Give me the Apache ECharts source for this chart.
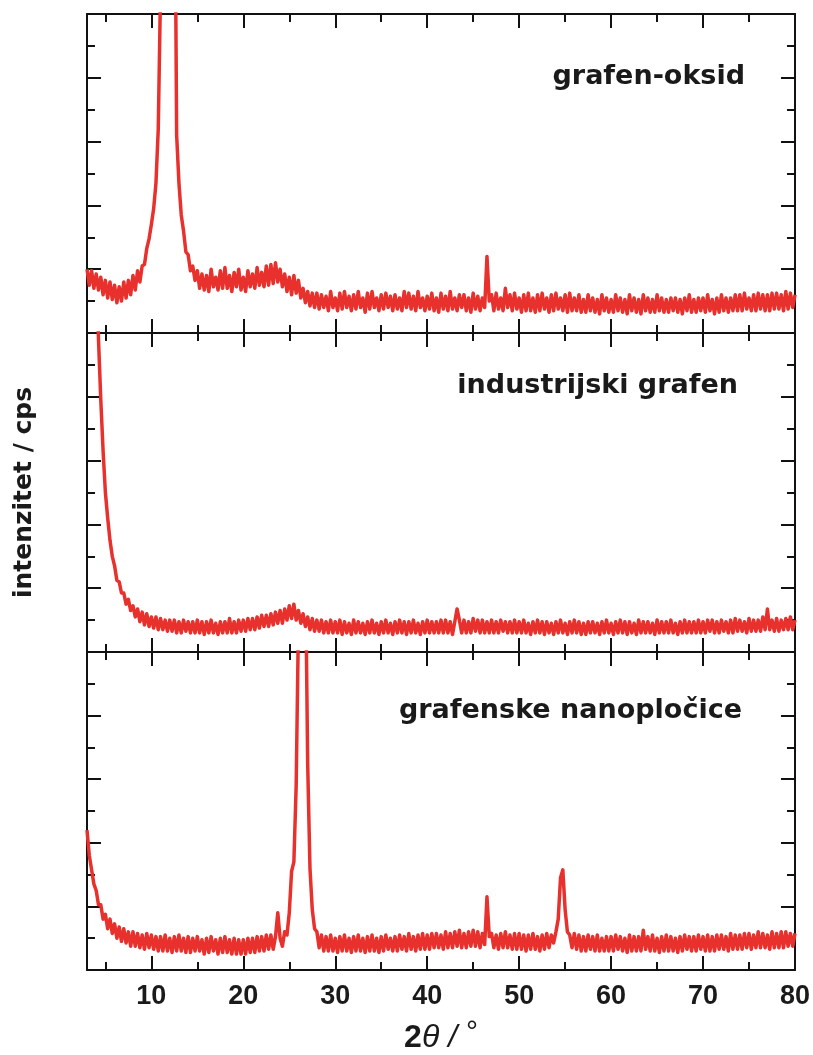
<!DOCTYPE html>
<html>
<head>
<meta charset="utf-8">
<script src="https://cdn.jsdelivr.net/npm/echarts@6/dist/echarts.min.js"></script>
<style>
html,body{margin:0;padding:0;background:#fff;}
#chart{width:813px;height:1055px;}
</style>
</head>
<body>
<div id="chart"></div>
<script>
// 2θ scan: start angle and step (degrees)
const angleStart = 3;
const angleStep = 0.25;
const angleMin = 3, angleMax = 80;

const panelNames = ['grafen-oksid', 'industrijski grafen', 'grafenske nanopločice'];
const xTickLabels = [10, 20, 30, 40, 50, 60, 70, 80];
const xMinorTicks = [5, 15, 25, 35, 45, 55, 65, 75];

// intensities (relative, per panel 0..10), one value per 0.25° from 3° to 80°
const grafenOksid = [
2.0,1.5,1.95,1.4, 1.85,1.35,1.75,1.2, 1.65,1.1,1.6,1.05, 1.5,0.95,1.45,1.0, 1.6,1.1,1.65,1.2,
1.8,1.35,1.95,1.6, 2.1,2.15,2.65,2.95, 3.4,3.9,4.7,6.4, 10.8,22,40,40, 40,32,17,6.2,
4.7,3.7,3.2,2.55, 2.45,1.95,2.1,1.65, 1.95,1.4,1.85,1.35, 1.8,1.3,2.0,1.45, 1.75,1.35,1.95,1.4,
2.05,1.4,1.8,1.3, 1.9,1.45,2.0,1.35, 1.75,1.3,1.95,1.45, 1.85,1.4,2.05,1.5, 1.9,1.45,2.1,1.5,
2.15,1.55,2.2,1.6, 2.0,1.45,1.85,1.3, 1.75,1.2,1.8,1.25, 1.65,1.1,1.4,0.95, 1.3,0.85,1.25,0.8,
1.25,0.75,1.2,0.8, 1.15,0.7,1.3,0.8, 1.1,0.7,1.25,0.75, 1.3,0.8,1.15,0.7, 1.2,0.75,1.3,0.8,
1.1,0.65,1.25,0.75, 1.3,0.8,1.1,0.7, 1.2,0.75,1.25,0.8, 1.15,0.7,1.2,0.75, 1.1,0.7,1.3,0.8,
1.25,0.75,1.15,0.7, 1.3,0.8,1.1,0.7, 1.15,0.75,1.25,0.7, 1.1,0.65,1.25,0.75, 1.15,0.7,1.3,0.75,
1.1,0.7,1.2,0.8, 1.2,0.7,1.1,0.65, 1.25,0.75,1.15,0.7, 1.1,0.8,2.4,1.0, 1.2,0.7,1.25,0.75,
1.1,0.7,1.4,0.8, 1.2,0.7,1.25,0.75, 1.1,0.65,1.2,0.7, 1.25,0.7,1.1,0.65, 1.2,0.7,1.25,0.75,
1.1,0.65,1.2,0.7, 1.25,0.75,1.1,0.7, 1.2,0.65,1.25,0.7, 1.1,0.7,1.2,0.65, 1.05,0.65,1.2,0.7,
1.1,0.65,1.05,0.6, 1.2,0.7,1.1,0.65, 1.05,0.65,1.2,0.7, 1.1,0.65,1.05,0.6, 1.2,0.7,1.1,0.65,
1.05,0.6,1.2,0.7, 1.1,0.65,1.05,0.65, 1.2,0.7,1.1,0.65, 1.05,0.65,1.1,0.7, 1.1,0.65,1.05,0.6,
1.1,0.7,1.2,0.65, 1.05,0.65,1.1,0.7, 1.1,0.65,1.2,0.7, 1.05,0.6,1.1,0.65, 1.2,0.7,1.1,0.65,
1.1,0.7,1.2,0.7, 1.2,0.7,1.25,0.75, 1.1,0.7,1.2,0.7, 1.25,0.75,1.2,0.7, 1.2,0.7,1.25,0.75,
1.25,0.75,1.2,0.7, 1.3,0.75,1.25,0.8, 1.2
];

const industrijskiGrafen = [
40,40,32,18, 12.5,9.8,7.9,6.3, 5.0,4.2,3.5,3.0, 2.7,2.25,2.2,1.85, 1.85,1.5,1.65,1.3,
1.45,1.1,1.35,0.95, 1.25,0.85,1.2,0.8, 1.1,0.75,1.1,0.7, 1.05,0.7,1.0,0.65, 1.0,0.65,1.0,0.6,
0.95,0.6,1.0,0.65, 0.95,0.6,0.95,0.6, 1.0,0.6,0.95,0.55, 0.95,0.6,1.0,0.6, 0.9,0.55,0.95,0.6,
0.95,0.6,1.05,0.6, 0.95,0.6,1.0,0.65, 1.0,0.65,1.05,0.7, 1.05,0.7,1.1,0.75, 1.15,0.8,1.15,0.8,
1.2,0.85,1.25,0.9, 1.3,0.9,1.35,1.0, 1.45,1.05,1.5,1.0, 1.3,0.9,1.2,0.8, 1.1,0.7,1.05,0.65,
1.0,0.65,1.0,0.6, 0.95,0.6,1.0,0.6, 0.95,0.6,1.0,0.55, 0.95,0.6,0.9,0.55, 1.0,0.6,0.95,0.6,
0.9,0.55,0.95,0.6, 1.0,0.6,0.9,0.55, 0.95,0.6,1.0,0.6, 0.9,0.55,0.95,0.6, 1.0,0.6,0.95,0.55,
0.95,0.6,1.0,0.6, 0.9,0.55,0.95,0.6, 1.0,0.6,0.95,0.6, 0.95,0.6,1.0,0.6, 1.0,0.6,0.95,0.55,
0.95,1.35,1.0,0.6, 1.0,0.6,0.95,0.6, 1.05,0.65,1.0,0.6, 1.0,0.6,0.95,0.6, 1.0,0.6,0.95,0.6,
1.0,0.65,0.95,0.6, 0.95,0.6,1.0,0.6, 0.95,0.6,1.0,0.6, 0.9,0.55,0.95,0.6, 1.0,0.6,0.95,0.55,
0.95,0.6,0.9,0.55, 0.95,0.6,1.0,0.6, 0.9,0.55,0.95,0.6, 1.0,0.6,0.95,0.55, 0.9,0.55,0.95,0.6,
0.95,0.6,0.9,0.55, 0.95,0.6,1.0,0.6, 0.9,0.55,0.95,0.6, 1.0,0.6,0.95,0.55, 0.95,0.6,0.9,0.55,
1.0,0.6,0.95,0.6, 0.95,0.6,0.9,0.55, 1.0,0.6,0.95,0.6, 0.95,0.6,1.0,0.6, 0.9,0.55,0.95,0.6,
1.0,0.6,0.95,0.6, 0.95,0.6,1.0,0.6, 0.95,0.6,1.0,0.65, 1.0,0.6,0.95,0.6, 1.0,0.65,0.95,0.6,
1.0,0.6,1.05,0.65, 1.0,0.65,0.95,0.6, 1.05,0.65,1.0,0.65, 1.0,0.65,1.1,0.7, 1.35,0.7,1.0,0.65,
1.05,0.65,1.0,0.7, 1.05,0.7,1.1,0.7, 1.0
];

const grafenskeNanoplocice = [
4.4,3.6,3.15,2.7, 2.5,2.05,2.05,1.6, 1.75,1.3,1.6,1.15, 1.45,1.0,1.35,0.9, 1.3,0.85,1.2,0.75,
1.2,0.75,1.15,0.7, 1.1,0.65,1.15,0.7, 1.1,0.65,1.05,0.6, 1.05,0.6,1.1,0.6, 1.0,0.55,1.05,0.6,
1.1,0.6,1.0,0.55, 1.05,0.55,1.0,0.6, 1.05,0.6,0.95,0.5, 1.0,0.55,1.05,0.6, 0.95,0.5,1.0,0.55,
1.05,0.55,0.95,0.5, 1.0,0.5,0.95,0.5, 0.95,0.5,1.0,0.55, 1.0,0.55,1.05,0.6, 1.05,0.6,1.1,0.65,
1.1,0.65,1.05,1.8, 1.0,0.75,1.2,1.1, 1.8,3.1,3.4,5.8, 11,30,30,13, 6.5,3.2,1.9,1.3,
1.2,0.7,1.1,0.6, 1.05,0.6,1.1,0.6, 1.0,0.55,1.05,0.6, 1.1,0.6,1.0,0.55, 1.05,0.6,1.1,0.6,
1.0,0.55,1.05,0.6, 1.1,0.6,1.0,0.55, 1.05,0.6,1.1,0.65, 1.0,0.6,1.05,0.6, 1.1,0.65,1.05,0.6,
1.15,0.65,1.05,0.6, 1.1,0.65,1.15,0.65, 1.1,0.65,1.15,0.7, 1.15,0.7,1.1,0.65, 1.2,0.7,1.15,0.7,
1.2,0.75,1.25,0.7, 1.15,0.7,1.2,0.75, 1.25,0.75,1.2,0.7, 1.15,0.8,2.3,1.05, 1.15,0.7,1.1,0.65,
1.15,0.7,1.2,0.7, 1.1,0.65,1.15,0.65, 1.15,0.65,1.1,0.6, 1.1,0.65,1.15,0.65, 1.05,0.6,1.1,0.65,
1.15,0.7,1.1,0.85, 1.2,1.6,2.9,3.15, 1.9,1.2,1.1,0.7, 1.15,0.65,1.1,0.6, 1.05,0.6,1.1,0.65,
1.05,0.6,1.1,0.6, 1.0,0.6,1.05,0.6, 1.05,0.6,1.1,0.65, 1.05,0.6,1.0,0.55, 1.1,0.6,1.05,0.6,
1.05,0.6,1.25,0.65, 1.05,0.6,1.1,0.6, 1.0,0.55,1.05,0.6, 1.1,0.6,1.05,0.6, 1.0,0.55,1.05,0.6,
1.1,0.65,1.05,0.6, 1.05,0.6,1.1,0.65, 1.05,0.6,1.1,0.6, 1.05,0.6,1.1,0.65, 1.1,0.65,1.05,0.6,
1.15,0.65,1.1,0.65, 1.1,0.65,1.15,0.7, 1.15,0.65,1.1,0.7, 1.2,0.7,1.15,0.7, 1.1,0.65,1.2,0.7,
1.15,0.7,1.2,0.7, 1.2,0.75,1.15,0.75, 1.15
];

const seriesValues = [grafenOksid, industrijskiGrafen, grafenskeNanoplocice];

const lineColor = '#e8312d';
const axisColor = '#111111';
const gridTops = [14, 333, 652];
const gridHeight = 319;

function toPairs(values) {
  return values.map((v, i) => [angleStart + i * angleStep, v]);
}

const grids = [], xAxes = [], yAxes = [], series = [], graphics = [];
const labelRight = [68, 75, 71];
const labelTop = [63, 372, 697];

for (let p = 0; p < 3; p++) {
  grids.push({ left: 87, right: 18, top: gridTops[p], height: gridHeight, containLabel: false });
  const isBottom = p === 2;
  const baseX = {
    gridIndex: p, type: 'value', min: angleMin, max: angleMax,
    splitLine: { show: false }, axisLabel: { show: false }
  };
  xAxes.push(Object.assign({}, baseX, {
    position: 'bottom',
    axisLine: { show: true, onZero: false, lineStyle: { color: axisColor, width: 2 } },
    axisTick: { show: true, inside: true, length: 14, customValues: xTickLabels, lineStyle: { color: axisColor, width: 2 } },
    axisLabel: isBottom ? {
      show: true, customValues: xTickLabels, margin: 13,
      fontFamily: "'Liberation Sans Narrow','Arial Narrow','Liberation Sans',sans-serif",
      fontWeight: 'bold', fontSize: 27, color: '#1a1a1a'
    } : { show: false },
    name: isBottom ? '{a|2}{b|θ / }{c|°}' : '',
    nameLocation: 'middle', nameGap: 48,
    nameTextStyle: {
      rich: {
        a: { fontFamily: "'Liberation Sans',sans-serif", fontWeight: 'bold', fontSize: 32, color: '#1a1a1a' },
        b: { fontFamily: "'Liberation Sans',sans-serif", fontStyle: 'italic', fontWeight: 'normal', fontSize: 32, color: '#1a1a1a' },
        c: { fontFamily: "'Liberation Sans',sans-serif", fontSize: 30, color: '#1a1a1a', verticalAlign: 'top', padding: [0, 0, 10, 0] }
      }
    }
  }));
  xAxes.push(Object.assign({}, baseX, {
    position: 'bottom',
    axisLine: { show: false, onZero: false },
    axisTick: { show: true, inside: true, length: 8, customValues: xMinorTicks, lineStyle: { color: axisColor, width: 2 } }
  }));
  xAxes.push(Object.assign({}, baseX, {
    position: 'top',
    axisLine: { show: true, onZero: false, lineStyle: { color: axisColor, width: 2 } },
    axisTick: { show: true, inside: true, length: 14, customValues: xTickLabels, lineStyle: { color: axisColor, width: 2 } }
  }));
  xAxes.push(Object.assign({}, baseX, {
    position: 'top',
    axisLine: { show: false, onZero: false },
    axisTick: { show: true, inside: true, length: 8, customValues: xMinorTicks, lineStyle: { color: axisColor, width: 2 } }
  }));

  const baseY = {
    gridIndex: p, type: 'value', min: 0, max: 10, interval: 2,
    splitLine: { show: false }, minorSplitLine: { show: false },
    axisLabel: { show: false },
    axisLine: { show: true, onZero: false, lineStyle: { color: axisColor, width: 2 } },
    axisTick: { show: true, inside: true, length: 14, lineStyle: { color: axisColor, width: 2 } },
    minorTick: { show: true, splitNumber: 2, length: 8, lineStyle: { color: axisColor, width: 2 } }
  };
  yAxes.push(Object.assign({}, baseY, p === 1 ? {
    position: 'left',
    name: 'intenzitet / cps', nameLocation: 'middle', nameGap: 50,
    nameTextStyle: { fontFamily: "'DejaVu Sans',sans-serif", fontWeight: 'bold', fontSize: 25, color: '#1a1a1a' }
  } : { position: 'left' }));
  yAxes.push(Object.assign({}, baseY, { position: 'right' }));

  series.push({
    type: 'line', xAxisIndex: p * 4, yAxisIndex: p * 2,
    data: toPairs(seriesValues[p]),
    showSymbol: false, symbol: 'none', clip: true,
    lineStyle: { color: lineColor, width: 3.5, join: 'round' },
    animation: false
  });

  graphics.push({
    type: 'text', right: labelRight[p], top: labelTop[p],
    style: { text: panelNames[p], fontFamily: "'DejaVu Sans',sans-serif", fontWeight: 'bold', fontSize: 27, fill: '#1a1a1a' }
  });
}

const chart = echarts.init(document.getElementById('chart'), null, { renderer: 'canvas' });
chart.setOption({
  animation: false,
  backgroundColor: '#ffffff',
  grid: grids,
  xAxis: xAxes,
  yAxis: yAxes,
  series: series,
  graphic: graphics
});
</script>
</body>
</html>
